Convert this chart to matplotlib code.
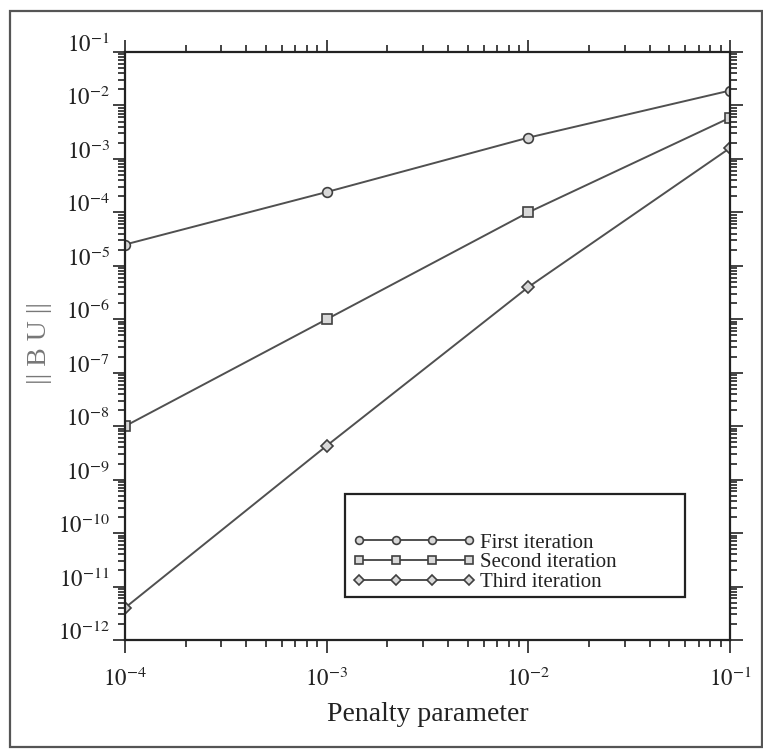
import matplotlib
matplotlib.use("Agg")
import matplotlib.pyplot as plt
from matplotlib.patches import Rectangle
from matplotlib.ticker import LogLocator, FixedLocator, NullFormatter

plt.rcParams["font.family"] = ["Liberation Serif", "DejaVu Serif"]
plt.rcParams["mathtext.fontset"] = "stix"

penalty = [1e-4, 1e-3, 1e-2, 1e-1]
first_iter = [2.5e-5, 2.4e-4, 2.5e-3, 1.9e-2]
second_iter = [1.0e-8, 1.0e-6, 1.0e-4, 5.9e-3]
third_iter = [4.0e-12, 4.3e-9, 4.0e-6, 1.6e-3]
series_labels = ["First iteration", "Second iteration", "Third iteration"]
x_ticks = [1e-4, 1e-3, 1e-2, 1e-1]
x_tick_labels = [r"$10^{-4}$", r"$10^{-3}$", r"$10^{-2}$", r"$10^{-1}$"]
y_exponents = list(range(-12, 0))

fig = plt.figure(figsize=(7.63, 7.51), dpi=100)
ax = fig.add_axes([125 / 763, 1 - 640 / 751, 605 / 763, 588 / 751])

line_kw = dict(color="#505050", lw=1.4, markersize=7, markeredgewidth=1.2,
               markeredgecolor="#404040", markerfacecolor="#d8d8d8")
ax.plot(penalty, first_iter, marker="o", label=series_labels[0], **line_kw)
ax.plot(penalty, second_iter, marker="s", label=series_labels[1], **line_kw)
ax.plot(penalty, third_iter, marker="D", label=series_labels[2],
        **{**line_kw, "markersize": 6.5})

ax.set_xscale("log")
ax.set_yscale("log")
ax.set_xlim(1e-4, 1e-1)
ax.set_ylim(1e-12, 1e-1)

ax.xaxis.set_major_locator(FixedLocator(x_ticks))
ax.set_xticklabels(x_tick_labels)
ax.xaxis.set_minor_locator(LogLocator(base=10, subs=range(2, 10), numticks=50))
ax.xaxis.set_minor_formatter(NullFormatter())

y_ticks = [10.0 ** e for e in y_exponents]
ax.yaxis.set_major_locator(FixedLocator(y_ticks))
ax.set_yticklabels([rf"$10^{{{e}}}$" for e in y_exponents])
ax.yaxis.set_minor_locator(LogLocator(base=10, subs=range(2, 10), numticks=50))
ax.yaxis.set_minor_formatter(NullFormatter())

ax.tick_params(which="both", direction="out", top=True, right=True,
               width=1.2, colors="#222222", labelcolor="#222222")
ax.tick_params(which="major", length=9, labelsize=16.5)
ax.tick_params(axis="x", which="major", pad=11)
ax.tick_params(axis="y", which="major", pad=2)
ax.tick_params(which="minor", length=5)
for lbl in ax.get_yticklabels():
    lbl.set_verticalalignment("baseline")
for s in ax.spines.values():
    s.set_linewidth(1.6)
    s.set_color("#222222")

ax.set_xlabel("Penalty parameter", fontsize=20, color="#222222", labelpad=8)
ax.set_ylabel("|| B U ||", fontsize=20, color="#777777")
ax.yaxis.set_label_coords(-0.12, 0.505)

# legend box with empty space above the entries
ax.add_patch(Rectangle((0.364, 0.073), 0.562, 0.175, transform=ax.transAxes,
                       fill=False, lw=1.6, ec="#222222", zorder=5))
leg = ax.legend(loc="lower left", bbox_to_anchor=(0.345, 0.05), frameon=False,
                numpoints=4, handlelength=5.9, handletextpad=0.2,
                labelspacing=0.0, fontsize=15, markerscale=0.8)
for t in leg.get_texts():
    t.set_color("#222222")

# outer frame around the whole figure
fig.add_artist(Rectangle((10 / 763, 1 - 747 / 751), 752 / 763, 736 / 751,
                         transform=fig.transFigure, fill=False, lw=1.6,
                         ec="#555555"))

fig.savefig("out.png", dpi=100)
